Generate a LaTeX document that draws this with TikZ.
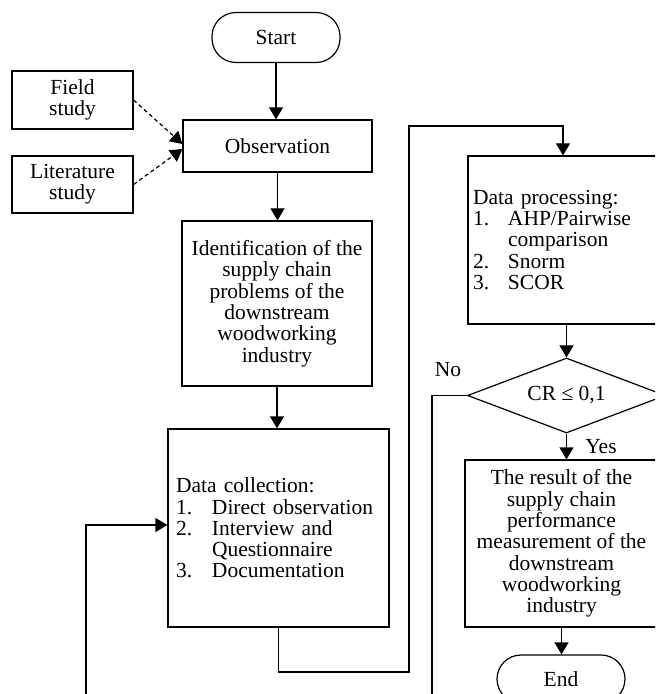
\documentclass[tikz,border=0pt]{standalone}
\usepackage{fontspec}
\setmainfont{Liberation Serif}
\usetikzlibrary{shapes.geometric,arrows.meta,calc}
\begin{document}
\begin{tikzpicture}[x=0.5pt,y=-0.5pt,
  every node/.style={font=\fontsize{10.75pt}{10.65pt}\selectfont},
  box/.style={draw,line width=0.6pt,inner sep=0pt,align=center},
  term/.style={box,rounded corners=12pt},
  line/.style={line width=0.6pt},
  arr/.style={line,-{Triangle[length=6pt,width=7pt]}},
  darr/.style={arr,dash pattern=on 2pt off 1.5pt}
]
\useasboundingbox (0,0) rectangle (655,694);
\clip (0,0) rectangle (655,694);

\node[term,minimum width=64pt,minimum height=25pt] (start) at (276,37.5) {Start};
\node[box,minimum width=94.5pt,minimum height=26pt] (obs) at (277.5,146) {Observation};
\node[box,minimum width=60.5pt,minimum height=29pt] (field) at (72.5,100) {Field\\study};
\node[box,minimum width=60.5pt,minimum height=28.5pt] (lit) at (72.5,184.5) {Literature\\study};
\node[box,minimum width=95pt,minimum height=82.5pt] (ident) at (277,303.5) {Identification of the\\supply chain\\problems of the\\downstream\\woodworking\\industry};
\node[box,align=left,text width=102.5pt,inner xsep=4pt,minimum height=99pt] (coll) at (278.5,528) {Data collection:\\\makebox[18pt][l]{1.}Direct observation\\\makebox[18pt][l]{2.}Interview and\\\hspace*{18pt}Questionnaire\\\makebox[18pt][l]{3.}Documentation};
\node[box,align=left,text width=90pt,inner xsep=2.5pt,minimum height=84pt] (proc) at (563,240) {Data processing:\\\makebox[17.5pt][l]{1.}AHP/Pairwise\\\hspace*{17.5pt}comparison\\\makebox[17.5pt][l]{2.}Snorm\\\makebox[17.5pt][l]{3.}SCOR};
\node[draw,line width=0.6pt,diamond,aspect=2.64,inner sep=0pt,minimum width=99pt,minimum height=37.5pt] (dia) at (566.5,395.5) {CR ≤ 0,1};
\node[box,minimum width=96.5pt,minimum height=83.5pt] (res) at (561.5,543.5) {The result of the\\supply chain\\performance\\measurement of the\\downstream\\woodworking\\industry};
\node[term,minimum width=64pt,minimum height=24pt] (end) at (561,679) {End};
\node (no) at (448,370) {No};
\node (yes) at (601,447) {Yes};

\draw[arr] (start.south) -- (start.south |- obs.north);
\draw[darr] (field.east) -- ($(obs.west)+(0,-2)$);
\draw[darr] (lit.east) -- ($(obs.west)+(0,3)$);
\draw[arr] (obs.south) -- (obs.south |- ident.north);
\draw[arr] (ident.south) -- (ident.south |- coll.north);
\coordinate (c1) at (409,672);
\coordinate (c2) at (409,126);
\draw[arr] (coll.south) |- (c1) -- (c2) -| (proc.north);
\draw[arr] (dia.north |- proc.south) -- (dia.north);
\draw[arr] (dia.south) -- (dia.south |- res.north);
\draw[arr] (res.south) -- (res.south |- end.north);
\coordinate (n1) at (432,720);
\coordinate (n2) at (86,720);
\draw[arr] (dia.west) -| (n1) -- (n2) |- ($(coll.west)+(0,-3)$);
\end{tikzpicture}
\end{document}
